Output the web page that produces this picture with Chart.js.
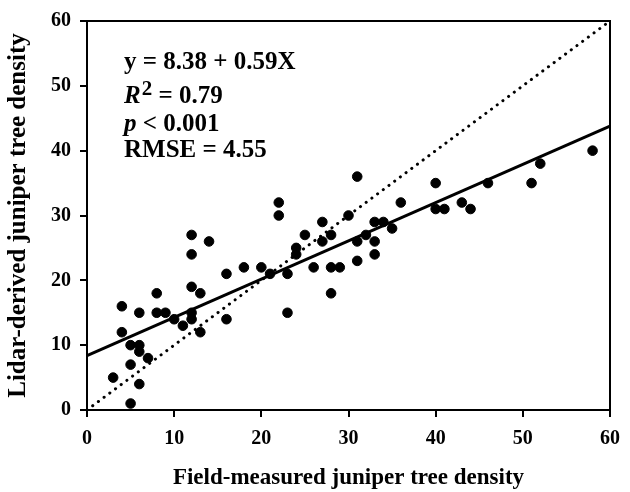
<!DOCTYPE html>
<html>
<head>
<meta charset="utf-8">
<script src="https://cdn.jsdelivr.net/npm/chart.js@4/dist/chart.umd.min.js"></script>
<style>
  html, body { margin: 0; padding: 0; background: #fff; }
  #wrap { width: 630px; height: 492px; }
</style>
</head>
<body>
<div id="wrap"><canvas id="chart" width="630" height="492"></canvas></div>
<script>
// field-measured (x) vs lidar-derived (y) juniper tree density
const fieldX = [3, 5, 4, 4, 5, 6, 6, 7, 5, 6, 6, 8, 8, 9, 10, 11, 12, 12, 12, 12, 12, 13, 13, 14,
  16, 16, 18, 20, 21, 22, 22, 23, 23, 24, 24, 25, 26, 27, 27, 28, 28, 28, 29, 30, 31, 31, 31,
  32, 33, 33, 33, 34, 35, 36, 40, 40, 41, 43, 44, 46, 51, 52, 58];
const lidarY = [5, 1, 16, 12, 10, 10, 9, 8, 7, 4, 15, 18, 15, 15, 14, 13, 27, 24, 19, 15, 14, 18, 12, 26,
  21, 14, 22, 22, 21, 32, 30, 21, 15, 25, 24, 27, 22, 29, 26, 27, 22, 18, 22, 30, 36, 26, 23,
  27, 29, 26, 24, 29, 28, 32, 35, 31, 31, 32, 31, 35, 35, 38, 40];

// regression line y = 8.38 + 0.59X, drawn across the axis range
const fitX = [0, 60];
const fitY = [8.38, 43.78];
// 1:1 line
const oneX = [0, 60];
const oneY = [0, 60];

const axisTicks = [0, 10, 20, 30, 40, 50, 60];
const annotation = ["y = 8.38 + 0.59X", "0.79", "0.001", "RMSE = 4.55"];

const SERIF = "'Liberation Serif', 'Times New Roman', serif";

function pairs(xs, ys) {
  return xs.map((x, i) => ({ x: x, y: ys[i] }));
}

// box around the plot + equation text
const boxAndText = {
  id: "boxAndText",
  afterDraw(chart) {
    const ctx = chart.ctx;
    const a = chart.chartArea;
    ctx.save();
    ctx.strokeStyle = "#000";
    ctx.lineWidth = 2;
    ctx.strokeRect(a.left, a.top, a.right - a.left, a.bottom - a.top);

    ctx.fillStyle = "#000";
    ctx.textBaseline = "middle";
    ctx.textAlign = "left";
    const x0 = 124;
    const bold = "bold 25px " + SERIF;
    const ital = "italic bold 25px " + SERIF;

    ctx.font = bold;
    ctx.fillText(annotation[0], x0, 63);

    // R^2 = 0.79
    ctx.font = ital;
    ctx.fillText("R", x0, 97);
    let w = ctx.measureText("R").width;
    ctx.font = "bold 21px " + SERIF;
    ctx.fillText("2", x0 + w + 1, 90);
    w += ctx.measureText("2").width + 1;
    ctx.font = bold;
    ctx.fillText(" = " + annotation[1], x0 + w, 97);

    // p < 0.001
    ctx.font = ital;
    ctx.fillText("p", x0, 125);
    w = ctx.measureText("p").width;
    ctx.font = bold;
    ctx.fillText(" < " + annotation[2], x0 + w, 125);

    ctx.fillText(annotation[3], x0, 151);
    ctx.restore();
  }
};

const tickFont = { family: SERIF, size: 20, weight: "bold" };

new Chart(document.getElementById("chart"), {
  type: "scatter",
  data: {
    datasets: [
      {
        label: "1:1",
        type: "line",
        data: pairs(oneX, oneY),
        borderColor: "#000",
        borderWidth: 3,
        borderDash: [0.1, 7],
        borderCapStyle: "round",
        pointRadius: 0,
        fill: false
      },
      {
        label: "fit",
        type: "line",
        data: pairs(fitX, fitY),
        borderColor: "#000",
        borderWidth: 3,
        pointRadius: 0,
        fill: false
      },
      {
        label: "plots",
        data: pairs(fieldX, lidarY),
        backgroundColor: "#000",
        borderColor: "#000",
        pointRadius: 4.8,
        pointHoverRadius: 4.8
      }
    ]
  },
  options: {
    responsive: false,
    animation: false,
    events: [],
    layout: { padding: { top: 18, right: 16, bottom: 0, left: 0 } },
    plugins: {
      legend: { display: false },
      tooltip: { enabled: false }
    },
    scales: {
      x: {
        type: "linear",
        min: 0,
        max: 60,
        afterBuildTicks: s => { s.ticks = axisTicks.map(v => ({ value: v })); },
        afterFit: s => { s.height = 82; },
        grid: { drawOnChartArea: false, drawTicks: true, tickLength: 7, color: "#000", lineWidth: 2 },
        border: { display: true, color: "#000", width: 2 },
        ticks: { color: "#000", font: tickFont, padding: 10, maxRotation: 0 },
        title: { display: true, text: "Field-measured juniper tree density", color: "#000",
          font: { family: SERIF, size: 23, weight: "bold" }, padding: { top: 0, bottom: 0 } }
      },
      y: {
        type: "linear",
        min: 0,
        max: 60,
        afterBuildTicks: s => { s.ticks = axisTicks.map(v => ({ value: v })); },
        afterFit: s => { s.width = 87; },
        grid: { drawOnChartArea: false, drawTicks: true, tickLength: 7, color: "#000", lineWidth: 2 },
        border: { display: true, color: "#000", width: 2 },
        ticks: { color: "#000", font: tickFont, padding: 9 },
        title: { display: true, text: "Lidar-derived juniper tree density", color: "#000",
          font: { family: SERIF, size: 25, weight: "bold" }, padding: { top: 4, bottom: 0 } }
      }
    }
  },
  plugins: [boxAndText]
});
</script>
</body>
</html>
